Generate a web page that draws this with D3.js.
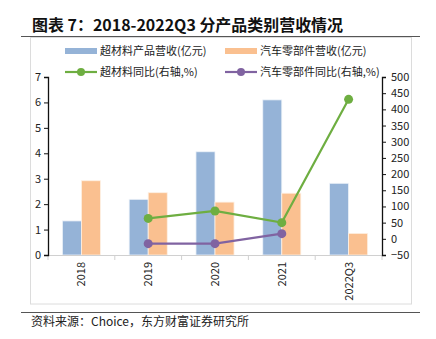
<!DOCTYPE html>
<html>
<head>
<meta charset="utf-8">
<script src="https://cdn.jsdelivr.net/npm/d3@7"></script>
<style>
  html, body { margin: 0; padding: 0; background: #fff; }
  svg { display: block; }
  text { font-family: "Noto Sans CJK SC", "Noto Sans", sans-serif; }
</style>
</head>
<body>
<svg id="chart" width="436" height="339"></svg>
<script>
// Revenue by product line, 2018 – 2022Q3
const categories = ["2018", "2019", "2020", "2021", "2022Q3"];
const metaRevenue = [1.34, 2.19, 4.06, 6.10, 2.82];      // 超材料产品营收 (亿元)
const autoRevenue = [2.92, 2.45, 2.08, 2.43, 0.85];      // 汽车零部件营收 (亿元)
const metaGrowth = [null, 63, 86, 50, 431];              // 超材料同比 (%)
const autoGrowth = [null, -15, -15, 16, null];           // 汽车零部件同比 (%)
const leftTicks = [0, 1, 2, 3, 4, 5, 6, 7];
const rightTicks = [-50, 0, 50, 100, 150, 200, 250, 300, 350, 400, 450, 500];
const seriesNames = ["超材料产品营收(亿元)", "汽车零部件营收(亿元)", "超材料同比(右轴,%)", "汽车零部件同比(右轴,%)"];

const colors = { meta: "#95B3D7", auto: "#FAC090", metaLine: "#6EAE41", autoLine: "#8063A1" };

const svg = d3.select("#chart");

// Title and rules
svg.append("text").attr("x", 32).attr("y", 31)
  .attr("font-size", 15.5).attr("font-weight", "bold").attr("fill", "#111")
  .attr("textLength", 311).attr("lengthAdjust", "spacingAndGlyphs")
  .text("图表 7：2018-2022Q3 分产品类别营收情况");
svg.append("line").attr("x1", 21).attr("x2", 420).attr("y1", 36.5).attr("y2", 36.5)
  .attr("stroke", "#555").attr("stroke-width", 1.2);
svg.append("rect").attr("x", 30.5).attr("y", 37.5).attr("width", 381).attr("height", 266.5)
  .attr("fill", "none").attr("stroke", "#dcdcdc");
svg.append("line").attr("x1", 21).attr("x2", 420).attr("y1", 312.5).attr("y2", 312.5)
  .attr("stroke", "#555").attr("stroke-width", 1.2);
svg.append("text").attr("x", 31).attr("y", 326)
  .attr("font-size", 12).attr("fill", "#222")
  .text("资料来源：Choice，东方财富证券研究所");

// Scales
const x0 = d3.scaleBand().domain(categories).range([48, 382]).paddingInner(0).paddingOuter(0);
const inner = x0.bandwidth() * 0.57;
const x1 = d3.scaleBand().domain(["meta", "auto"]).range([0, inner]);
const yL = d3.scaleLinear().domain([0, 7]).range([255, 77]);
const yR = d3.scaleLinear().domain([-50, 500]).range([255, 77]);

// Bars
const groups = svg.append("g").selectAll("g").data(categories).join("g")
  .attr("transform", d => `translate(${x0(d) + (x0.bandwidth() - inner) / 2},0)`);
groups.append("rect")
  .attr("x", x1("meta")).attr("width", x1.bandwidth())
  .attr("y", (d, i) => yL(metaRevenue[i])).attr("height", (d, i) => yL(0) - yL(metaRevenue[i]))
  .attr("fill", colors.meta).attr("stroke", "#eef3f9").attr("stroke-width", 0.8);
groups.append("rect")
  .attr("x", x1("auto")).attr("width", x1.bandwidth())
  .attr("y", (d, i) => yL(autoRevenue[i])).attr("height", (d, i) => yL(0) - yL(autoRevenue[i]))
  .attr("fill", colors.auto).attr("stroke", "#fdf0e4").attr("stroke-width", 0.8);

// X axis (category boundaries as ticks)
const xAxisG = svg.append("g");
xAxisG.append("line").attr("x1", 48).attr("x2", 382).attr("y1", 255.5).attr("y2", 255.5)
  .attr("stroke", "#d0d0d0");
xAxisG.selectAll("line.tk").data(d3.range(categories.length + 1)).join("line")
  .attr("class", "tk")
  .attr("x1", i => 48 + i * x0.bandwidth()).attr("x2", i => 48 + i * x0.bandwidth())
  .attr("y1", 255).attr("y2", 260).attr("stroke", "#d0d0d0");
xAxisG.selectAll("text").data(categories).join("text")
  .attr("transform", d => `translate(${x0(d) + x0.bandwidth() / 2 + 4},262) rotate(-90)`)
  .attr("text-anchor", "end").attr("font-size", 11).attr("fill", "#222")
  .text(d => d);

// Left axis
const leftAxis = svg.append("g").attr("transform", "translate(48,0)")
  .call(d3.axisLeft(yL).tickValues(leftTicks).tickSize(4).tickFormat(d3.format("d")));
leftAxis.select(".domain").attr("stroke", "#111").attr("stroke-width", 1.3);
leftAxis.selectAll(".tick line").attr("stroke", "#111");
leftAxis.selectAll(".tick text").attr("font-size", 11).attr("fill", "#222")
  .attr("font-family", "'Noto Sans CJK SC', sans-serif");

// Right axis
const rightAxis = svg.append("g").attr("transform", "translate(382,0)")
  .call(d3.axisRight(yR).tickValues(rightTicks).tickSize(4).tickFormat(d3.format("d")));
rightAxis.select(".domain").attr("stroke", "#111").attr("stroke-width", 1.3);
rightAxis.selectAll(".tick line").attr("stroke", "#111");
rightAxis.selectAll(".tick text").attr("font-size", 11).attr("fill", "#222").attr("x", 9)
  .attr("font-family", "'Noto Sans CJK SC', sans-serif");

// Lines
function drawLine(values, color) {
  const pts = categories.map((c, i) => ({ c, v: values[i] })).filter(p => p.v !== null);
  const line = d3.line().x(p => x0(p.c) + x0.bandwidth() / 2).y(p => yR(p.v));
  svg.append("path").datum(pts).attr("d", line)
    .attr("fill", "none").attr("stroke", color).attr("stroke-width", 2.2);
  svg.append("g").selectAll("circle").data(pts).join("circle")
    .attr("cx", p => x0(p.c) + x0.bandwidth() / 2).attr("cy", p => yR(p.v))
    .attr("r", 4.5).attr("fill", color);
}
drawLine(metaGrowth, colors.metaLine);
drawLine(autoGrowth, colors.autoLine);

// Legend
const legend = svg.append("g");
const legendItems = [
  { name: seriesNames[0], type: "bar", color: colors.meta, x: 65, y: 51 },
  { name: seriesNames[1], type: "bar", color: colors.auto, x: 225, y: 51 },
  { name: seriesNames[2], type: "line", color: colors.metaLine, x: 65, y: 72 },
  { name: seriesNames[3], type: "line", color: colors.autoLine, x: 225, y: 72 }
];
legendItems.forEach(it => {
  if (it.type === "bar") {
    legend.append("rect").attr("x", it.x).attr("y", it.y - 3).attr("width", 32).attr("height", 6)
      .attr("fill", it.color);
  } else {
    legend.append("line").attr("x1", it.x).attr("x2", it.x + 32).attr("y1", it.y).attr("y2", it.y)
      .attr("stroke", it.color).attr("stroke-width", 2.2);
    legend.append("circle").attr("cx", it.x + 16).attr("cy", it.y).attr("r", 4).attr("fill", it.color);
  }
  legend.append("text").attr("x", it.x + 35).attr("y", it.y + 4)
    .attr("font-size", 11).attr("fill", "#222").text(it.name);
});
</script>
</body>
</html>
